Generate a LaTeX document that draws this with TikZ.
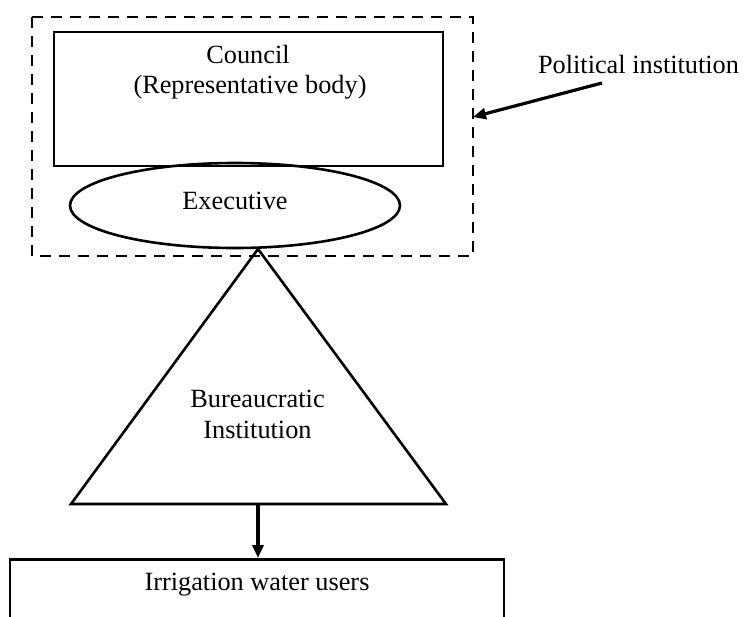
\documentclass[tikz,border=0pt]{standalone}
\usepackage{fontspec}
\setmainfont{Liberation Serif}
\usetikzlibrary{shapes.geometric,arrows.meta}
\begin{document}
\begin{tikzpicture}[x=1pt,y=-1pt,
  solidline/.style={line width=2.6pt},
  dashline/.style={line width=2.6pt, dash pattern=on 11pt off 8pt},
  txt/.style={inner sep=0pt, anchor=base, font=\fontsize{26.3}{30}\selectfont},
  arr/.style={line width=3.2pt, -{Triangle[length=13pt,width=11pt]}}]
\useasboundingbox (0,0) rectangle (744,616);
\clip (0,0) rectangle (744,616);
% political institution frame
\draw[dashline] (32,17) rectangle (473,256);
\coordinate (frameR) at (473,117);
% council
\node[draw, solidline, rectangle, inner sep=0pt, minimum width=389pt, minimum height=134pt] (council) at (248.5,99) {};
\node[txt] (counciltxt) at (248,63) {Council};
\node[txt] (reptxt) at (250,93) {(Representative body)};
% executive
\node[draw, solidline, ellipse, inner sep=0pt, minimum width=330pt, minimum height=85pt] (exec) at (235,205.5) {};
\node[txt] (exectxt) at (235,209) {Executive};
% bureaucratic triangle
\coordinate (apex) at (258,249);
\coordinate (bl) at (71,504);
\coordinate (br) at (446,504);
\coordinate (bmid) at (258,504);
\draw[solidline, line join=miter] (apex) -- (br) -- (bl) -- cycle;
\node[txt] (bur1) at (257.5,407) {Bureaucratic};
\node[txt] (bur2) at (257.5,438) {Institution};
% irrigation water users
\node[draw, solidline, rectangle, inner sep=0pt, minimum width=494pt, minimum height=80pt, anchor=north] (irr) at (257,558) {};
\node[txt] (irrtxt) at (257,590) {Irrigation water users};
\draw[arr] (bmid) -- (bmid |- irr.north);
% label
\node[txt] (poltxt) at (638.5,73) {Political institution};
\coordinate (poltail) at (602,83);
\draw[arr] (poltail) -- (frameR);
\end{tikzpicture}
\end{document}
